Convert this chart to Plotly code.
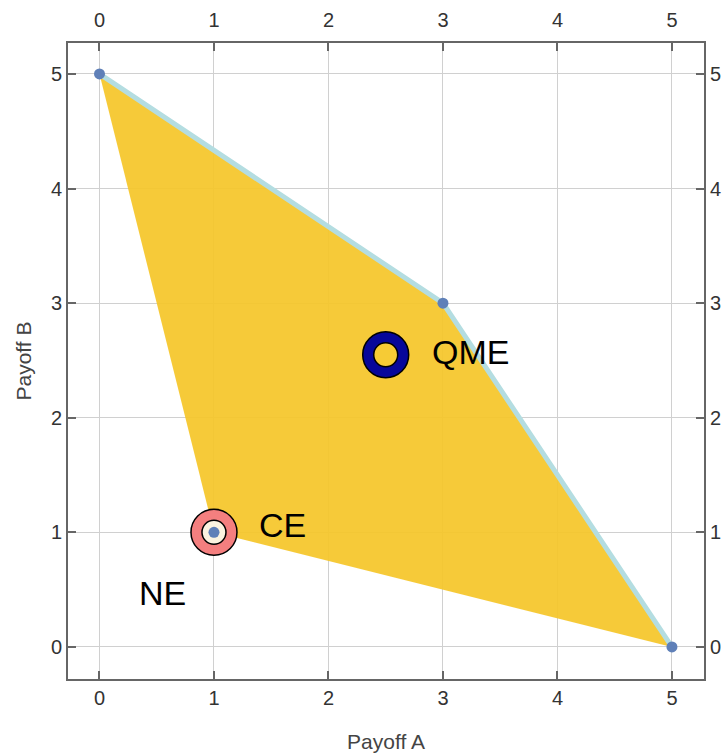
import plotly.graph_objects as go

# Data
region_x = [0, 3, 5, 1, 0]
region_y = [5, 3, 0, 1, 5]
frontier_x = [0, 3, 5]
frontier_y = [5, 3, 0]
vertex_x = [0, 3, 5, 1]
vertex_y = [5, 3, 0, 1]
qme = (2.5, 2.55)
ce = (1.0, 1.0)
labels = ["QME", "CE", "NE"]
label_x = [2.89, 1.38, 0.33]
label_y = [2.57, 1.06, 0.47]
ticks = [0, 1, 2, 3, 4, 5]

GOLD = "rgba(245,197,40,0.92)"
fig = go.Figure()
fig.add_trace(go.Scatter(x=region_x, y=region_y, mode="lines", fill="toself",
                         fillcolor=GOLD, line=dict(width=0), hoverinfo="skip"))
fig.add_trace(go.Scatter(x=frontier_x, y=frontier_y, mode="lines",
                         line=dict(color="#B4DDE1", width=5)))
fig.add_trace(go.Scatter(x=vertex_x, y=vertex_y, mode="markers",
                         marker=dict(color="#5F80B8", size=11)))
# QME marker
fig.add_trace(go.Scatter(x=[qme[0]], y=[qme[1]], mode="markers",
                         marker=dict(color="#07079A", size=46, line=dict(color="black", width=1.5))))
fig.add_trace(go.Scatter(x=[qme[0]], y=[qme[1]], mode="markers",
                         marker=dict(color="#F6CB35", size=24, line=dict(color="black", width=1.5))))
# CE marker
fig.add_trace(go.Scatter(x=[ce[0]], y=[ce[1]], mode="markers",
                         marker=dict(color="#F47F7F", size=46, line=dict(color="black", width=1.5))))
fig.add_trace(go.Scatter(x=[ce[0]], y=[ce[1]], mode="markers",
                         marker=dict(color="#FBF3E0", size=24, line=dict(color="black", width=1.5))))
fig.add_trace(go.Scatter(x=[ce[0]], y=[ce[1]], mode="markers",
                         marker=dict(color="#5F80B8", size=11)))
# invisible trace for mirrored axes
fig.add_trace(go.Scatter(x=[0], y=[0], xaxis="x2", yaxis="y2", mode="markers",
                         marker=dict(opacity=0), hoverinfo="skip"))

for t, lx, ly in zip(labels, label_x, label_y):
    fig.add_annotation(x=lx, y=ly, text=t, showarrow=False, xanchor="left", yanchor="middle",
                       font=dict(size=34, color="black", family="Liberation Sans, Arial"))

rng_x = [-0.275, 5.28]
rng_y = [-0.28, 5.27]
axfont = dict(size=20, color="#333333", family="Liberation Sans, Arial")
common = dict(tickvals=ticks, ticks="inside", ticklen=8, tickwidth=1.5, tickcolor="#666666",
              showline=True, linecolor="#666666", linewidth=2, zeroline=False,
              tickfont=axfont, automargin=False)
titlefont = dict(size=21, color="#444444", family="Liberation Sans, Arial")
fig.update_layout(
    width=725, height=754, showlegend=False,
    plot_bgcolor="white", paper_bgcolor="white",
    margin=dict(l=68, r=21, t=43, b=75),
    xaxis=dict(range=rng_x, mirror=True, showgrid=True, gridcolor="#D0D0D0", gridwidth=1,
               title=dict(text="Payoff A", font=titlefont, standoff=26),
               **common),
    yaxis=dict(range=rng_y, mirror=True, showgrid=True, gridcolor="#D0D0D0", gridwidth=1,
               title=dict(text="Payoff B", font=titlefont, standoff=14),
               **common),
    xaxis2=dict(range=rng_x, overlaying="x", side="top", showgrid=False,
                ticklabelstandoff=6, **common),
    yaxis2=dict(range=rng_y, overlaying="y", side="right", showgrid=False, **common),
)
fig.write_html("out.html", config={"displayModeBar": False},
               post_script="document.body.style.margin='0';document.body.style.overflow='hidden';")
